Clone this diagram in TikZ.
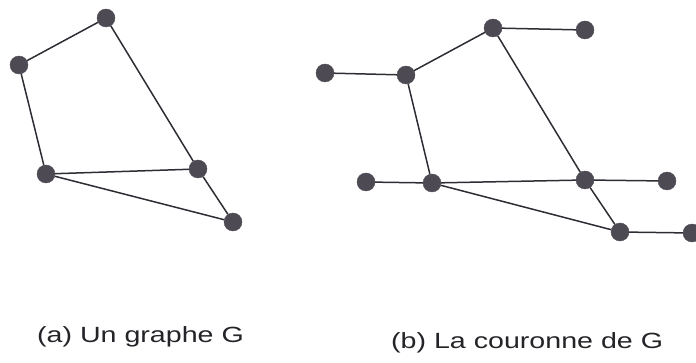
\documentclass[tikz,border=0pt]{standalone}
\usepackage{fontspec}
\setmainfont{Liberation Sans}
\definecolor{vfill}{RGB}{78,74,84}
\definecolor{edgecol}{RGB}{45,45,52}
\definecolor{textcol}{RGB}{35,35,40}
\begin{document}
\begin{tikzpicture}[x=1pt,y=-1pt,
  vtx/.style={circle,fill=vfill,draw=vfill,minimum size=18pt,inner sep=0pt},
  edge/.style={draw=edgecol,line width=1.5pt},
  captext/.style={anchor=base west,inner sep=0pt,text=textcol,font=\fontsize{22}{26}\selectfont}]
\useasboundingbox (0,0) rectangle (696,363);
% (a) graph G
\node[vtx] (a1) at (106,18) {};
\node[vtx] (a2) at (19,65) {};
\node[vtx] (a3) at (46,174) {};
\node[vtx] (a4) at (198,169) {};
\node[vtx] (a5) at (233,222) {};
\draw[edge] (a1) -- (a2);
\draw[edge] (a2) -- (a3);
\draw[edge] (a1) -- (a4);
\draw[edge] (a3) -- (a4);
\draw[edge] (a4) -- (a5);
\draw[edge] (a3) -- (a5);
% (b) corona of G
\node[vtx] (b1) at (493,28) {};
\node[vtx] (b1p) at (585,30) {};
\node[vtx] (b2) at (406,75) {};
\node[vtx] (b2p) at (325,73) {};
\node[vtx] (b3) at (432,183) {};
\node[vtx] (b3p) at (366,182) {};
\node[vtx] (b4) at (585,180) {};
\node[vtx] (b4p) at (667,181) {};
\node[vtx] (b5) at (620,232) {};
\node[vtx] (b5p) at (692,233) {};
\draw[edge] (b1) -- (b1p);
\draw[edge] (b2) -- (b2p);
\draw[edge] (b3) -- (b3p);
\draw[edge] (b4) -- (b4p);
\draw[edge] (b5) -- (b5p);
\draw[edge] (b1) -- (b2);
\draw[edge] (b2) -- (b3);
\draw[edge] (b1) -- (b4);
\draw[edge] (b3) -- (b4);
\draw[edge] (b4) -- (b5);
\draw[edge] (b3) -- (b5);
% captions
\node[captext] (capa) at (37,342) {\scalebox{1.3}[1]{(a) Un graphe G}};
\node[captext] (capb) at (391,348) {\scalebox{1.3}[1]{(b) La couronne de G}};
\end{tikzpicture}
\end{document}
